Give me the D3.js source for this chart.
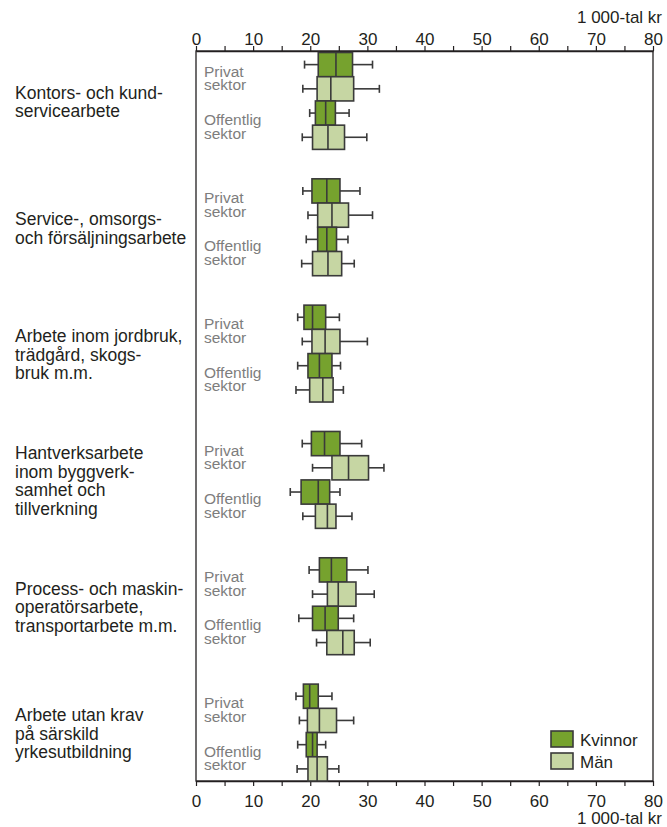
<!DOCTYPE html>
<html>
<head>
<meta charset="utf-8">
<script src="https://d3js.org/d3.v7.min.js"></script>
<style>
  body { margin: 0; background: #fff; }
  text { font-family: "Liberation Sans", Arial, sans-serif; }
</style>
</head>
<body>
<div id="chart"></div>
<script>
// occupational groups, one label line per entry
var groups = [
  ["Kontors- och kund-", "servicearbete"],
  ["Service-, omsorgs-", "och försäljningsarbete"],
  ["Arbete inom jordbruk,", "trädgård, skogs-", "bruk m.m."],
  ["Hantverksarbete", "inom byggverk-", "samhet och", "tillverkning"],
  ["Process- och maskin-", "operatörsarbete,", "transportarbete m.m."],
  ["Arbete utan krav", "på särskild", "yrkesutbildning"]
]

// [low whisker, q1, median, q3, high whisker] in 1 000-tal kr, one row per group
var kvinnorPrivat = [
  [19.0, 21.4, 24.5, 27.4, 30.9],
  [18.7, 20.3, 22.9, 25.2, 28.7],
  [17.8, 18.9, 20.4, 22.7, 25.1],
  [18.6, 20.2, 22.5, 25.2, 29.0],
  [19.8, 21.6, 23.7, 26.4, 30.1],
  [17.5, 18.8, 19.9, 21.4, 23.8]
]
var manPrivat = [
  [18.7, 21.2, 23.6, 27.6, 32.1],
  [19.6, 21.3, 23.8, 26.7, 30.9],
  [18.6, 20.3, 22.6, 25.2, 30.0],
  [20.4, 23.8, 26.7, 30.2, 32.9],
  [20.4, 23.0, 24.9, 28.0, 31.2],
  [18.1, 19.5, 21.6, 24.6, 27.6]
]
var kvinnorOffentlig = [
  [19.9, 20.9, 22.7, 24.4, 26.8],
  [19.3, 21.3, 22.9, 24.6, 26.6],
  [17.8, 19.6, 21.6, 23.8, 25.3],
  [16.5, 18.4, 21.4, 23.4, 25.2],
  [18.0, 20.4, 22.6, 24.9, 27.6],
  [17.8, 19.3, 20.4, 21.2, 22.7]
]
var manOffentlig = [
  [18.6, 20.4, 23.1, 26.0, 29.9],
  [18.5, 20.4, 23.1, 25.5, 27.7],
  [17.5, 19.9, 22.2, 24.0, 25.8],
  [18.7, 20.9, 23.0, 24.5, 27.3],
  [21.1, 22.9, 25.7, 27.7, 30.5],
  [17.7, 19.6, 21.2, 23.0, 25.0]
]

var sectors = [["Privat", "sektor"], ["Offentlig", "sektor"]]
var legendLabels = ["Kvinnor", "Män"]

var series = [
  { key: "kp", values: kvinnorPrivat, fill: "#76a22e" },
  { key: "mp", values: manPrivat, fill: "#c6d6a3" },
  { key: "ko", values: kvinnorOffentlig, fill: "#76a22e" },
  { key: "mo", values: manOffentlig, fill: "#c6d6a3" }
]

var margin = { top: 51, right: 14, bottom: 46, left: 196 }
var width = 667 - margin.left - margin.right
var height = 827 - margin.top - margin.bottom
var ink = "#231f20"
var boxStroke = "#3a3a3a"

var svg = d3.select("#chart")
  .append("svg")
  .attr("width", 667)
  .attr("height", 827)
  .append("g")
  .attr("transform", "translate(" + margin.left + "," + margin.top + ")")

// scales
var x = d3.scaleLinear().domain([0, 80]).range([0, width])

var y = d3.scaleBand()
  .domain(d3.range(groups.length))
  .range([1.5, height])
  .paddingInner(0.233)

var inner = d3.scaleBand()
  .domain(series.map(function(s) { return s.key }))
  .range([0, y.bandwidth()])

// frame
svg.append("rect")
  .attr("width", width)
  .attr("height", height)
  .attr("fill", "none")
  .attr("stroke", ink)
  .attr("stroke-width", 1.3)

// axes, ticks every 5, labels every 10
var fmt = function(d) { return d % 10 === 0 ? d : "" }

var topAxis = svg.append("g")
  .call(d3.axisTop(x).tickValues(d3.range(0, 81, 5)).tickFormat(fmt).tickSize(5).tickSizeOuter(0).tickPadding(1))
var bottomAxis = svg.append("g")
  .attr("transform", "translate(0," + height + ")")
  .call(d3.axisBottom(x).tickValues(d3.range(0, 81, 5)).tickFormat(fmt).tickSize(5).tickSizeOuter(0).tickPadding(9))

;[topAxis, bottomAxis].forEach(function(a) {
  a.select(".domain").attr("stroke", ink).attr("stroke-width", 1.3)
  a.selectAll(".tick line").attr("stroke", ink).attr("stroke-width", 1.2)
  a.selectAll(".tick text").attr("fill", ink).style("font-size", "17px")
})

svg.append("text")
  .attr("x", width + 9)
  .attr("y", -28)
  .attr("text-anchor", "end")
  .attr("fill", ink)
  .style("font-size", "17px")
  .text("1 000-tal kr")

svg.append("text")
  .attr("x", width + 9)
  .attr("y", height + 43)
  .attr("text-anchor", "end")
  .attr("fill", ink)
  .style("font-size", "17px")
  .text("1 000-tal kr")

// group labels
var lineH = 18.5
groups.forEach(function(lines, i) {
  var cy = y(i) + y.bandwidth() / 2
  var t = svg.append("text")
    .attr("x", 15 - margin.left)
    .attr("fill", ink)
    .style("font-size", "17.5px")
  lines.forEach(function(l, j) {
    t.append("tspan")
      .attr("x", 15 - margin.left)
      .attr("y", cy - (lines.length - 1) * lineH / 2 + 7 + j * lineH)
      .text(l)
  })

  // sector labels
  sectors.forEach(function(s, k) {
    var c = y(i) + inner.bandwidth() * (1 + 2 * k)
    s.forEach(function(l, j) {
      svg.append("text")
        .attr("x", 8)
        .attr("y", c + j * 13.5)
        .attr("fill", "#7d7d7d")
        .style("font-size", "15.5px")
        .text(l)
    })
  })
})

// boxes
series.forEach(function(s) {
  var g = svg.append("g")
  s.values.forEach(function(v, i) {
    var y0 = y(i) + inner(s.key)
    var h = inner.bandwidth()
    var ym = y0 + h / 2

    // whiskers
    g.append("line").attr("x1", x(v[0])).attr("x2", x(v[1])).attr("y1", ym).attr("y2", ym)
    g.append("line").attr("x1", x(v[3])).attr("x2", x(v[4])).attr("y1", ym).attr("y2", ym)
    g.append("line").attr("x1", x(v[0])).attr("x2", x(v[0])).attr("y1", ym - 4).attr("y2", ym + 4)
    g.append("line").attr("x1", x(v[4])).attr("x2", x(v[4])).attr("y1", ym - 4).attr("y2", ym + 4)

    g.append("rect")
      .attr("x", x(v[1]))
      .attr("y", y0)
      .attr("width", x(v[3]) - x(v[1]))
      .attr("height", h)
      .attr("fill", s.fill)

    g.append("line").attr("x1", x(v[2])).attr("x2", x(v[2])).attr("y1", y0).attr("y2", y0 + h)
  })
  g.selectAll("line, rect").attr("stroke", boxStroke).attr("stroke-width", 1.6)
})

// legend
var legend = svg.append("g")
  .attr("transform", "translate(" + (551 - margin.left) + "," + (731 - margin.top) + ")")

legendLabels.forEach(function(l, i) {
  legend.append("rect")
    .attr("y", i * 22)
    .attr("width", 22)
    .attr("height", 16)
    .attr("fill", series[i].fill)
    .attr("stroke", boxStroke)
    .attr("stroke-width", 1.6)
  legend.append("text")
    .attr("x", 29)
    .attr("y", i * 22 + 15)
    .attr("fill", ink)
    .style("font-size", "17px")
    .text(l)
})
</script>
</body>
</html>
